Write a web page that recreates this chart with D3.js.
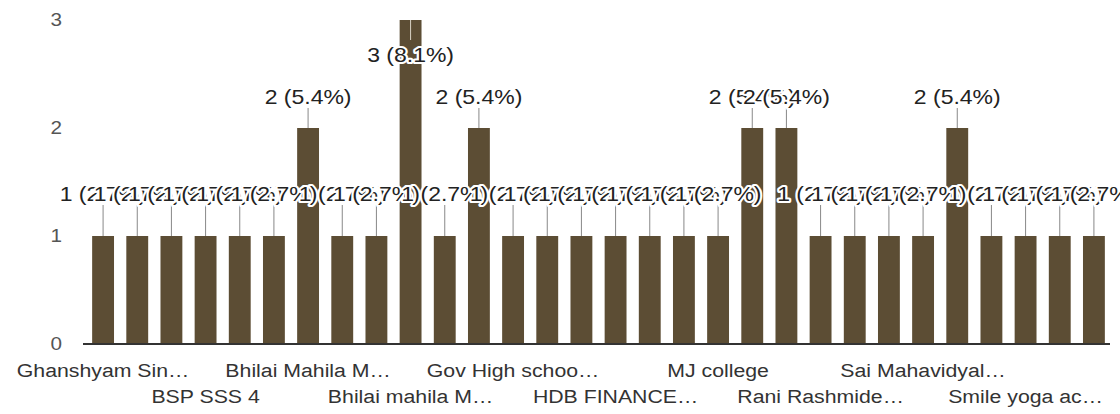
<!DOCTYPE html>
<html>
<head>
<meta charset="utf-8">
<script src="https://cdnjs.cloudflare.com/ajax/libs/d3/7.8.5/d3.min.js"></script>
<style>
  body { margin: 0; background: #fff; }
  svg { display: block; font-family: "Liberation Sans", Arial, sans-serif; }
</style>
</head>
<body>
<div id="chart"></div>
<script>
// answers (only every third name is printed under the axis)
var categories = [
  "Ghanshyam Sin…", "", "", "BSP SSS 4", "", "", "Bhilai Mahila M…", "", "", "Bhilai mahila M…",
  "", "", "Gov High schoo…", "", "", "HDB FINANCE…", "", "", "MJ college", "",
  "", "Rani Rashmide…", "", "", "Sai Mahavidyal…", "", "", "Smile yoga ac…", "", ""
];
var values = [1, 1, 1, 1, 1, 1, 2, 1, 1, 3, 1, 2, 1, 1, 1, 1, 1, 1, 1, 2, 2, 1, 1, 1, 1, 2, 1, 1, 1, 1];
var yTicks = [0, 1, 2, 3];

var width = 1120, height = 414;
var total = d3.sum(values);
var pct = d3.format(".1%");

var svg = d3.select("#chart")
  .append("svg")
  .attr("width", width)
  .attr("height", height);

var x = d3.scaleBand()
  .domain(d3.range(values.length))
  .range([86, 1111])
  .paddingInner(0.36)
  .paddingOuter(0.18);

var y = d3.scaleLinear()
  .domain([0, d3.max(yTicks)])
  .range([344, 20]);

// y axis labels
var yAxis = svg.append("g")
  .attr("transform", "translate(70,0)")
  .call(d3.axisLeft(y).tickValues(yTicks).tickFormat(d3.format("d")).tickSize(0).tickPadding(8));
yAxis.select(".domain").remove();
yAxis.selectAll("text")
  .attr("transform", "scale(1.15,1)")
  .attr("x", -8 / 1.15)
  .style("font-size", "18px")
  .style("fill", "#555");

// bars
svg.selectAll(".bar")
  .data(values)
  .enter()
  .append("rect")
  .attr("class", "bar")
  .attr("x", function (d, i) { return x(i); })
  .attr("y", function (d) { return y(d); })
  .attr("width", x.bandwidth())
  .attr("height", function (d) { return y(0) - y(d); })
  .attr("fill", "#5c4d34");

// x axis with staggered labels
var labelIdx = d3.range(values.length).filter(function (i) { return categories[i] !== ""; });
var xAxis = svg.append("g")
  .attr("transform", "translate(0," + y(0) + ")")
  .call(d3.axisBottom(x).tickValues(labelIdx).tickFormat(function (i) { return categories[i]; })
    .tickSize(0).tickSizeOuter(0));
xAxis.select(".domain")
  .attr("d", "M83,0H1110")
  .attr("stroke", "#333")
  .attr("stroke-width", 2);
xAxis.selectAll("text")
  .attr("y", function (d, k) { return k % 2 === 0 ? 33 : 59; })
  .attr("dy", 0)
  .attr("transform", "scale(1.12,1)")
  .style("font-size", "19px")
  .style("fill", "#333");

// annotations: stem + "n (p%)"
var minVal = d3.min(values);
function stemLen(v) { return v === minVal ? 31 : 20; }
function inside(v) { return y(v) - stemLen(v) - 20 < 0; }

svg.selectAll(".stem")
  .data(values)
  .enter()
  .append("line")
  .attr("class", "stem")
  .attr("x1", function (d, i) { return x(i) + x.bandwidth() / 2; })
  .attr("x2", function (d, i) { return x(i) + x.bandwidth() / 2; })
  .attr("y1", function (d) { return y(d); })
  .attr("y2", function (d) { return inside(d) ? y(d) + 20 : y(d) - stemLen(d); })
  .attr("stroke", function (d) { return inside(d) ? "#d8d2c4" : "#888"; })
  .attr("stroke-width", 1);

svg.selectAll(".ann")
  .data(values)
  .enter()
  .append("text")
  .attr("class", "ann")
  .attr("transform", function (d, i) {
    var ty = inside(d) ? y(d) + 42 : y(d) - stemLen(d) - 4;
    return "translate(" + (x(i) + x.bandwidth() / 2) + "," + ty + ") scale(1.15,1)";
  })
  .attr("text-anchor", "middle")
  .style("font-size", "20px")
  .style("fill", "#222")
  .style("stroke", "#fff")
  .style("stroke-width", 4)
  .style("stroke-linejoin", "round")
  .style("paint-order", "stroke")
  .text(function (d) { return d + " (" + pct(d / total) + ")"; });
</script>
</body>
</html>
